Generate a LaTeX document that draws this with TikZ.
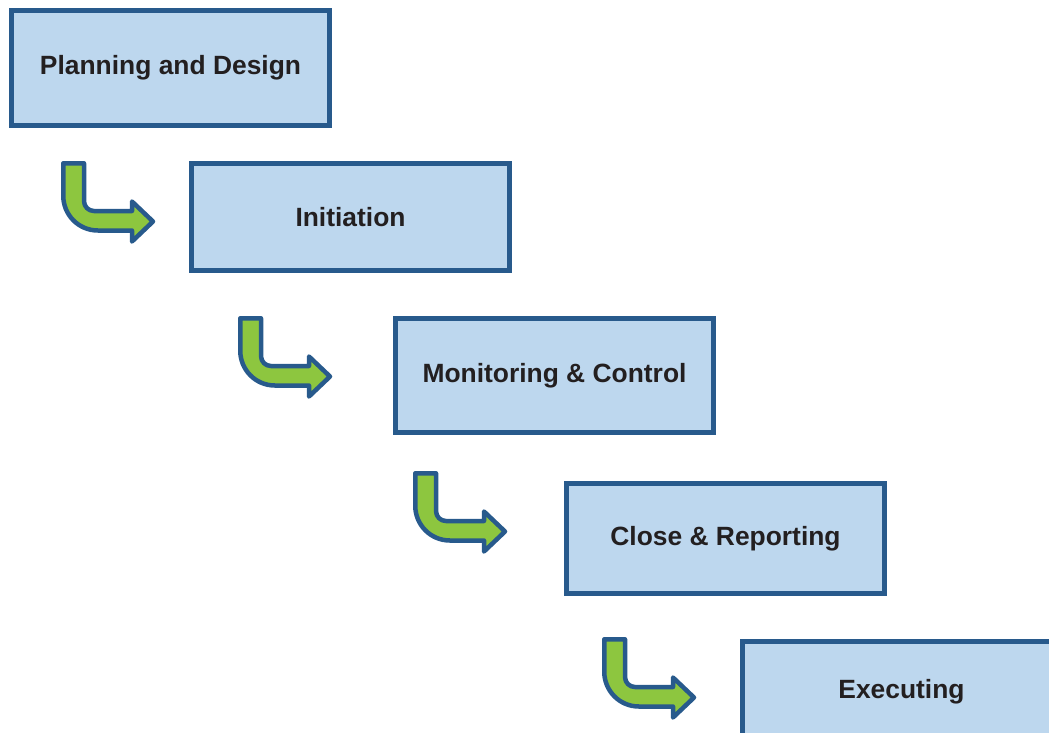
\documentclass[tikz,border=0pt]{standalone}
\usepackage{fontspec}
\setmainfont{Liberation Sans}
\definecolor{boxfill}{HTML}{BDD7EE}
\definecolor{boxline}{HTML}{285A8C}
\definecolor{arrowfill}{HTML}{8DC63F}
\definecolor{txt}{HTML}{231F20}
\begin{document}
\begin{tikzpicture}[x=1pt,y=-1pt,
  stagebox/.style={draw=boxline, fill=boxfill, line width=5pt, rectangle,
    minimum width=318pt, inner sep=0pt, text=txt,
    font=\fontsize{26.4}{30}\selectfont\bfseries},
  bendarrow/.pic={
    \draw[draw=boxline, fill=arrowfill, line width=4.5pt, line join=round]
      (2.25,2.25) -- (23,2.25) -- (23,40)
      .. controls (23,45.52) and (27.48,50) .. (33,50)
      -- (71,50) -- (71,40.5) -- (92,60.5) -- (71,80.5) -- (71,69.5) -- (37,69.5)
      .. controls (17.12,69.5) and (2.25,53.38) .. (2.25,34.75) -- cycle;
  }]
\useasboundingbox (0,0) rectangle (1049,732);
\clip (0,0) rectangle (1049,732);
\node[stagebox, minimum height=115pt] (plan) at (170.5,68) {Planning and Design};
\node[stagebox, minimum height=107pt] (init) at (350.5,217) {Initiation};
\node[stagebox, minimum height=114pt] (mon) at (554.5,375.5) {Monitoring \& Control};
\node[stagebox, minimum height=110pt] (close) at (725.5,538.5) {Close \& Reporting};
\node[stagebox, minimum height=100pt] (exec) at (901.5,691.5) {Executing};
\pic at (61,161) {bendarrow};
\pic at (238,316) {bendarrow};
\pic at (413,471) {bendarrow};
\pic at (602,637) {bendarrow};
\end{tikzpicture}
\end{document}
